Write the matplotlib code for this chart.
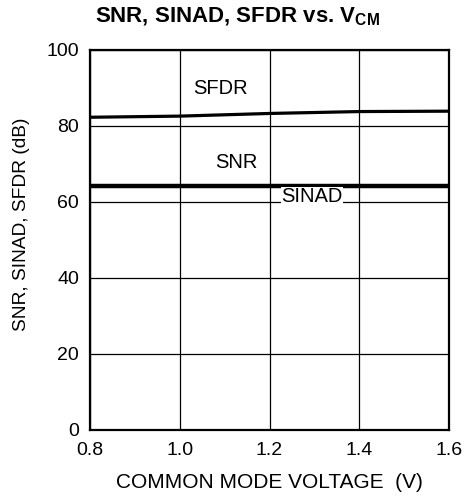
import matplotlib
matplotlib.use("Agg")
import matplotlib.pyplot as plt

plt.rcParams['font.family'] = ['Liberation Sans', 'DejaVu Sans']
plt.rcParams['mathtext.fontset'] = 'custom'
plt.rcParams['mathtext.rm'] = 'Liberation Sans:bold'
plt.rcParams['mathtext.it'] = 'Liberation Sans:bold'
plt.rcParams['mathtext.bf'] = 'Liberation Sans:bold'
plt.rcParams['mathtext.default'] = 'rm'

vcm = [0.8, 1.0, 1.2, 1.4, 1.6]
sfdr = [82.3, 82.6, 83.3, 83.8, 83.9]
snr = [64.3, 64.3, 64.3, 64.3, 64.3]
sinad = [64.1, 64.1, 64.1, 64.1, 64.1]
xticks = [0.8, 1.0, 1.2, 1.4, 1.6]
yticks = [0, 20, 40, 60, 80, 100]

fig = plt.figure(figsize=(4.71, 4.99), dpi=100)
ax = fig.add_axes([90/471, 69/499, 359/471, 380/499])

ax.plot(vcm, sfdr, color='black', lw=2.3, solid_capstyle='butt', zorder=3)
ax.plot(vcm, snr, color='black', lw=3.2, solid_capstyle='butt', zorder=3)
ax.plot(vcm, sinad, color='black', lw=1.5, solid_capstyle='butt', zorder=3)

ax.set_xlim(0.8, 1.6)
ax.set_ylim(0, 100)
ax.set_xticks(xticks)
ax.set_xticklabels([f"{v:.1f}" for v in xticks])
ax.set_yticks(yticks)
ax.grid(True, color='black', lw=0.9)
ax.tick_params(axis='both', length=0, labelsize=14, colors='black')
ax.tick_params(axis='x', pad=8.5)
ax.tick_params(axis='y', pad=8)
for s in ax.spines.values():
    s.set_linewidth(1.6)
    s.set_color('black')

ax.text(1.091, 89.9, 'SFDR', ha='center', va='center', fontsize=14.5, zorder=4)
ax.text(1.125, 70.3, 'SNR', ha='center', va='center', fontsize=14.5, zorder=4)
ax.text(1.295, 61.4, 'SINAD', ha='center', va='center', fontsize=14.5, zorder=4,
        bbox=dict(facecolor='white', edgecolor='none', pad=0.0))

fig.text(269.5/471, 1 - 483/499, 'COMMON MODE VOLTAGE  (V)', ha='center', va='center', fontsize=15)
fig.text(22/471, 1 - 224/499, 'SNR, SINAD, SFDR (dB)', ha='center', va='center',
         rotation=90, fontsize=13.8)
fig.text(237/471, 1 - 17/499, r'SNR, SINAD, SFDR vs. V$_{CM}$', ha='center', va='center',
         fontsize=16, fontweight='bold')

fig.savefig('out.png', dpi=100, facecolor='white')
